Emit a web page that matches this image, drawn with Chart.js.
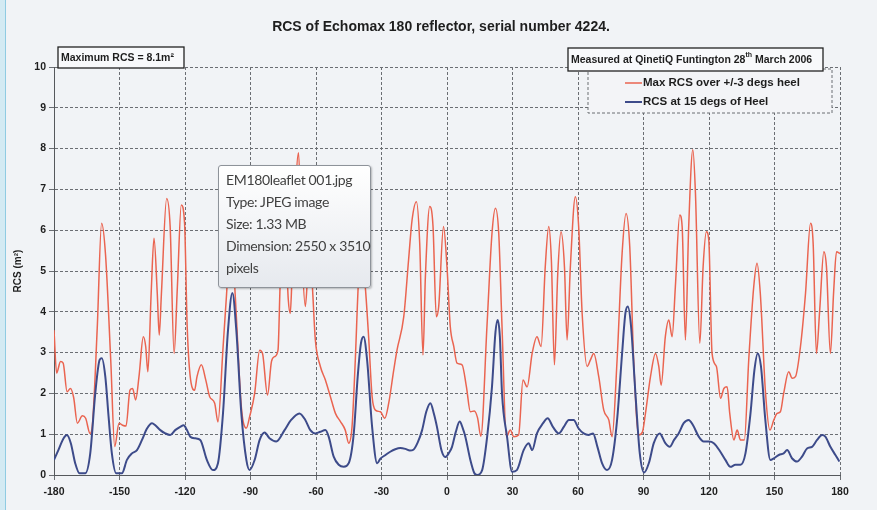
<!DOCTYPE html>
<html>
<head>
<meta charset="utf-8">
<title>RCS of Echomax 180 reflector</title>
<script src="https://cdn.jsdelivr.net/npm/chart.js@4.4.1/dist/chart.umd.min.js"></script>
<style>
    html, body { margin: 0; padding: 0; background: #f1f3f6; }
    #wrap { position: relative; width: 877px; height: 510px; overflow: hidden; background: #f1f3f6; }
    #edge { position: absolute; left: 0; top: 0; width: 5px; height: 510px; background: #d3eaf3; border-right: 1px solid #8fcbe2; }
    #tip {
        position: absolute; left: 218px; top: 165px; width: 153px; height: 123px;
        box-sizing: border-box; padding: 3px 0 0 7px;
        border: 1px solid #8e939a; border-radius: 3px;
        background: linear-gradient(#ffffff, #e6e9ee);
        box-shadow: 1px 1px 2px rgba(0,0,0,0.25);
        font-family: Lato, "Open Sans", sans-serif; font-size: 14px; line-height: 22px; color: #414141;
        letter-spacing: -0.35px; white-space: nowrap;
    }
</style>
</head>
<body>
<div id="wrap">
    <canvas id="rcs-chart" width="877" height="510"></canvas>
    <div id="edge"></div>
    <div id="tip">EM180leaflet 001.jpg<br>Type: JPEG image<br>Size: 1.33 MB<br>Dimension: 2550 x 3510<br>pixels</div>
</div>
<script>
const FONT = "'Liberation Sans', Arial, sans-serif";

const chartTitle = "RCS of Echomax 180 reflector, serial number 4224.";
const yAxisTitle = "RCS (m\u00B2)";
const maxNote = "Maximum RCS = 8.1m\u00B2";
const siteNote = ["Measured at QinetiQ Funtington 28", "th", " March 2006"];
const xTicks = [-180, -150, -120, -90, -60, -30, 0, 30, 60, 90, 120, 150, 180];
const yTicks = [0, 1, 2, 3, 4, 5, 6, 7, 8, 9, 10];

// Max RCS over +/-3 degs heel (red)
const maxAngles = [-180, -178.8, -177, -175.8, -174, -172.5, -171, -169.3, -167, -165.5, -163.5, -162.5,
    -160.2, -158.2, -156.4, -154, -152.2, -150.2, -148.6, -147, -145.2, -144, -142.6, -141, -139.1, -138,
    -137, -135.5, -134.2, -132.7, -131.8, -130.8, -128.4, -126.8, -125, -123.5, -121.7, -120.2, -119,
    -117.2, -115.6, -114.5, -112.5, -110.5, -108.7, -106.4, -104.9, -102.6, -101, -99, -97.6, -96.5,
    -94.2, -91.9, -90.4, -88.1, -85.8, -84.5, -82.2, -80.4, -79, -77.4, -76.4, -75, -73.5, -72.7, -71.8,
    -71, -68, -66.5, -64.9, -63.3, -62, -60.3, -58, -55.7, -53.4, -51.1, -48.8, -46.6, -45, -43.5, -42,
    -40.6, -39.2, -37.4, -35.9, -34.3, -32.8, -30.5, -28.5, -26.7, -24.4, -22.9, -19.8, -17.6, -16, -14,
    -12.5, -11, -9.9, -7.9, -6.4, -4.9, -3.8, -1.6, 0, 1.5, 3.1, 4.6, 6.9, 8.9, 10.7, 12.5, 14, 15.5,
    18.3, 20.6, 22.2, 23.7, 25.2, 27.2, 29, 30.6, 32.8, 34.8, 36.7, 39, 41.2, 43.1, 45, 46.6, 47.8, 49.2,
    50.7, 52.2, 53.8, 55, 56.5, 58.8, 60.3, 61.9, 64.2, 65.7, 67.2, 69.5, 71.8, 74.1, 75.6, 77.9, 80.2,
    82, 83.7, 85.5, 87.8, 89.5, 90.9, 93.2, 95.5, 97, 98.1, 100, 101.6, 103.1, 104.6, 106.6, 107.7, 109.2,
    110.7, 112.6, 113.8, 115.8, 117.3, 118.8, 119.9, 121.4, 123.4, 125.3, 126.8, 128.3, 129.5, 131.4,
    132.9, 134.4, 136.2, 138.2, 140.5, 142, 143.5, 145.9, 147.9, 149.7, 151.2, 152.7, 154.2, 156.5, 158.1,
    159.6, 161.9, 164.2, 166.5, 167.7, 169.2, 170.7, 172.6, 173.8, 175.6, 177.1, 178.4, 180];
const maxValues = [3.55, 2.5, 2.78, 2.74, 2.04, 2.12, 1.9, 1.27, 1.45, 1.39, 1.02, 1.18,
    3.6, 6.17, 5.4, 2.8, 0.7, 1.27, 1.22, 1.2, 2.08, 2.12, 1.84, 2.45, 3.39, 3.15,
    2.53, 4.45, 5.8, 4.45, 3.43, 4.45, 6.78, 6.09, 2.98, 4.6, 6.62, 6.17, 3.64,
    2.25, 2.08, 2.41, 2.7, 2.33, 1.92, 1.76, 1.3, 3.1, 4.4, 6.0, 5.0, 3.9,
    1.67, 1.15, 1.43, 2.0, 3.06, 2.98, 1.96, 2.78, 2.9, 3.06, 4.7, 5.8, 5.2, 4.3, 3.96,
    4.8, 7.9, 5.5, 4.13, 5.2, 4.9, 3.31, 2.66, 2.33, 1.92, 1.51, 1.31, 1.1, 0.78, 1.18, 2.82,
    4.7, 5.6, 4.6, 3.39, 1.92, 1.59, 1.55, 1.39, 1.76, 2.57, 3.06, 3.88, 5.27, 6.25, 6.7,
    5.68, 2.94, 4.86, 6.58, 6.09, 3.88, 4.13, 6.09, 5.1, 3.64, 3.15, 2.74, 2.7, 2.16, 1.55, 1.57, 1.4, 0.95,
    3.64, 5.92, 6.54, 5.92, 3.64, 0.94, 1.1, 0.94, 0.98, 2.33, 2.16, 2.98, 3.39, 3.15, 5.1, 6.09, 5.27, 2.7,
    4.9, 5.96, 5.1, 3.31, 5.1, 6.82, 6.09, 3.96, 2.66, 2.82, 2.98, 2.41, 1.59, 1.35, 0.94, 2.82, 5.43,
    6.41, 5.6, 2.82, 0.98, 1.05, 1.51, 2.41, 2.98, 2.66, 2.2, 3.39, 3.8, 3.39, 4.62, 6.37, 6.09, 3.31,
    6.09, 7.97, 6.9, 3.23, 5.1, 5.96, 5.76, 2.98, 2.66, 1.88, 2.12, 2.16, 1.51, 0.86,
    1.1, 0.86, 0.86, 2.82, 4.62, 5.19, 4.45, 2.0, 1.1, 1.35, 1.51, 1.55, 2.0, 2.53, 2.37,
    2.41, 3.15, 4.45, 6.17, 5.68, 2.98, 4.04, 5.47, 5.1, 2.98, 4.5, 5.47, 5.43];

// RCS at 15 degs of heel (blue)
const heelAngles = [-180, -178, -175.6, -174.1, -172.3, -170.3, -168.3, -165.7, -163.4, -161.1, -159.1,
    -158.1, -156.5, -155, -153.5, -151.5, -148.9, -146.6, -144.3, -142, -139.7, -137.4, -135.1, -133.6,
    -131.3, -129, -126.8, -124.5, -122.2, -120.6, -119.1, -117.6, -115.3, -113, -110, -107.2, -104.9,
    -102.6, -100.3, -98.3, -96.5, -94.2, -91.9, -90.4, -88.1, -85.8, -83.5, -81.3, -78.2, -74.4, -71.4,
    -67.6, -64.9, -62.6, -60.3, -58, -55.7, -54.2, -51.9, -49.6, -47.3, -45, -42.7, -40.9, -39.4, -38.2,
    -36.6, -34.3, -32, -30.5, -28.2, -26, -23.7, -21.4, -19.1, -17, -15.4, -13.4, -11.4, -9.5, -7.6, -6,
    -4.6, -2.5, -0.8, 1, 2.3, 4, 5.8, 7.2, 8.4, 10.7, 12.5, 13.8, 16.1, 18.4, 20.6, 22.2, 23.2, 24.2,
    25.2, 27.5, 29.8, 32, 35.1, 37.4, 39, 41.2, 44, 46.1, 48.5, 51.2, 53.5, 55.8, 58, 60.3, 62.6, 64.8,
    66.9, 68.9, 71, 73.3, 75.6, 77.9, 80.2, 81.7, 82.8, 84.3, 86.3, 88.3, 90.3, 92.5, 94.7, 97.4, 100,
    102, 104, 106.1, 108.4, 110.7, 112.7, 115.3, 117.6, 119.9, 122.2, 125.2, 127.5, 129.8, 132.1, 134.4,
    136.7, 139, 140.8, 142.3, 143.8, 145.8, 148.1, 149.7, 152, 154.2, 155.8, 158, 160.3, 162.6, 164.9,
    167.2, 169.5, 171.8, 173.3, 175.6, 177.9, 179.7];
const heelValues = [0.37, 0.61, 0.9, 0.98, 0.78, 0.29, 0.04, 0.04, 0.53, 2.0, 2.82,
    2.86, 2.41, 1.43, 0.53, 0.04, 0.04, 0.37, 0.53, 0.61, 0.86, 1.14, 1.27, 1.22,
    1.1, 1.02, 0.98, 1.1, 1.18, 1.22, 1.1, 0.94, 0.9, 0.86, 0.37, 0.12, 0.29,
    1.51, 3.55, 4.46, 3.55, 1.51, 0.37, 0.12, 0.37, 0.86, 1.04, 0.9, 0.82, 1.1, 1.35,
    1.51, 1.35, 1.1, 1.02, 1.06, 1.1, 0.94, 0.45, 0.25, 0.2, 0.29, 1.02, 2.41, 3.23, 3.39,
    2.82, 1.18, 0.29, 0.4, 0.49, 0.57, 0.63, 0.66, 0.64, 0.6, 0.62, 0.8, 1.1, 1.55, 1.76, 1.5,
    1.18, 0.6, 0.44, 0.55, 0.69, 1.05, 1.31, 1.15, 0.94, 0.37, 0.05, 0.0, 0.12, 0.94, 2.16, 3.5, 3.8, 3.4,
    2.0, 0.94, 0.08, 0.12, 0.61, 0.78, 0.61, 1.02, 1.27, 1.39, 1.18, 1.02, 1.18, 1.35, 1.35, 1.14, 1.02, 0.98,
    1.02, 0.69, 0.29, 0.12, 0.37, 1.35, 2.98, 3.96, 4.13, 3.64, 2.0, 0.53, 0.06, 0.3, 0.78, 1.02, 0.78,
    0.69, 0.86, 1.02, 1.27, 1.35, 1.22, 0.94, 0.82, 0.82, 0.78, 0.57, 0.37, 0.2, 0.25, 0.25,
    0.53, 1.51, 2.57, 2.98, 2.66, 1.35, 0.37, 0.41, 0.49, 0.53, 0.61, 0.41, 0.33, 0.45, 0.65,
    0.69, 0.86, 0.98, 0.94, 0.69, 0.49, 0.33];

function toPoints(xs, ys) {
    return xs.map((x, i) => ({x: x, y: ys[i]}));
}

const gridStyle = {
    color: '#6b6e73',
    lineWidth: 1,
    tickLength: 5,
    tickColor: '#6b6e73',
    drawOnChartArea: true
};

// title, note boxes and legend drawn on top of the chart
const overlayPlugin = {
    id: 'overlays',
    afterDraw(chart) {
        const ctx = chart.ctx;
        const area = chart.chartArea;
        ctx.save();

        ctx.fillStyle = '#1e1e1e';
        ctx.textBaseline = 'middle';
        ctx.textAlign = 'center';
        ctx.font = 'bold 14px ' + FONT;
        ctx.fillText(chartTitle, (area.left + area.right) / 2 - 6, 27);

        // "Maximum RCS" box
        ctx.fillStyle = '#f8f9fb';
        ctx.fillRect(area.left + 4, 47, 126, 21);
        ctx.strokeStyle = '#222';
        ctx.lineWidth = 1.3;
        ctx.strokeRect(area.left + 4, 47, 126, 21);
        ctx.fillStyle = '#1e1e1e';
        ctx.textAlign = 'left';
        ctx.font = 'bold 10.5px ' + FONT;
        ctx.fillText(maxNote, area.left + 7, 58);

        // legend box
        const lx = area.right - 252, ly = area.top + 2, lw = 244, lh = 44;
        ctx.fillStyle = '#f3f4f7';
        ctx.fillRect(lx, ly, lw, lh);
        ctx.setLineDash([3, 2]);
        ctx.strokeStyle = '#6b6e73';
        ctx.lineWidth = 1;
        ctx.strokeRect(lx, ly, lw, lh);
        ctx.setLineDash([]);
        chart.data.datasets.forEach((ds, i) => {
            const yy = ly + 14 + i * 19;
            ctx.strokeStyle = ds.borderColor;
            ctx.lineWidth = ds.borderWidth;
            ctx.beginPath();
            ctx.moveTo(lx + 37, yy);
            ctx.lineTo(lx + 54, yy);
            ctx.stroke();
            ctx.fillStyle = '#1e1e1e';
            ctx.font = 'bold 11.5px ' + FONT;
            ctx.fillText(ds.label, lx + 55, yy);
        });

        // "Measured at" box
        const bx = area.right - 272, by = 48, bw = 255, bh = 23;
        ctx.fillStyle = '#f8f9fb';
        ctx.fillRect(bx, by, bw, bh);
        ctx.strokeStyle = '#222';
        ctx.lineWidth = 1.3;
        ctx.strokeRect(bx, by, bw, bh);
        ctx.fillStyle = '#1e1e1e';
        let tx = bx + 3;
        ctx.font = 'bold 10.5px ' + FONT;
        ctx.fillText(siteNote[0], tx, by + 12);
        tx += ctx.measureText(siteNote[0]).width;
        ctx.font = 'bold 7px ' + FONT;
        ctx.fillText(siteNote[1], tx, by + 7);
        tx += ctx.measureText(siteNote[1]).width;
        ctx.font = 'bold 10.5px ' + FONT;
        ctx.fillText(siteNote[2], tx, by + 12);

        ctx.restore();
    }
};

const ctx = document.getElementById('rcs-chart').getContext('2d');
const rcsChart = new Chart(ctx, {
    type: 'line',
    data: {
        datasets: [
            {
                label: 'Max RCS over +/-3 degs heel',
                data: toPoints(maxAngles, maxValues),
                borderColor: '#ea6450',
                backgroundColor: '#ea6450',
                borderWidth: 1.5,
                pointRadius: 0,
                cubicInterpolationMode: 'monotone',
                fill: false,
                order: 2
            },
            {
                label: 'RCS at 15 degs of Heel',
                data: toPoints(heelAngles, heelValues),
                borderColor: '#3d4b8a',
                backgroundColor: '#3d4b8a',
                borderWidth: 2,
                pointRadius: 0,
                cubicInterpolationMode: 'monotone',
                fill: false,
                order: 1
            }
        ]
    },
    options: {
        responsive: false,
        animation: false,
        layout: {
            padding: {left: 8, right: 37, top: 67, bottom: 0}
        },
        plugins: {
            legend: {display: false},
            title: {display: false},
            tooltip: {enabled: false}
        },
        scales: {
            x: {
                type: 'linear',
                min: -180,
                max: 180,
                afterBuildTicks: (scale) => { scale.ticks = xTicks.map(v => ({value: v})); },
                afterFit: (scale) => { scale.height = 35; },
                grid: Object.assign({}, gridStyle),
                border: {display: true, color: '#55585c', width: 1, dash: [3, 2]},
                ticks: {
                    color: '#1e1e1e',
                    padding: 6,
                    maxRotation: 0,
                    font: {family: FONT, size: 10.5, weight: 'bold'}
                }
            },
            y: {
                min: 0,
                max: 10,
                afterBuildTicks: (scale) => { scale.ticks = yTicks.map(v => ({value: v})); },
                afterFit: (scale) => { scale.width = 46; },
                grid: Object.assign({}, gridStyle),
                border: {display: true, color: '#55585c', width: 1, dash: [3, 2]},
                title: {
                    display: true,
                    text: yAxisTitle,
                    color: '#1e1e1e',
                    font: {family: FONT, size: 10, weight: 'bold'},
                    padding: {top: 4, bottom: 0}
                },
                ticks: {
                    color: '#1e1e1e',
                    padding: 3,
                    font: {family: FONT, size: 10.5, weight: 'bold'}
                }
            }
        }
    },
    plugins: [overlayPlugin]
});
</script>
</body>
</html>
